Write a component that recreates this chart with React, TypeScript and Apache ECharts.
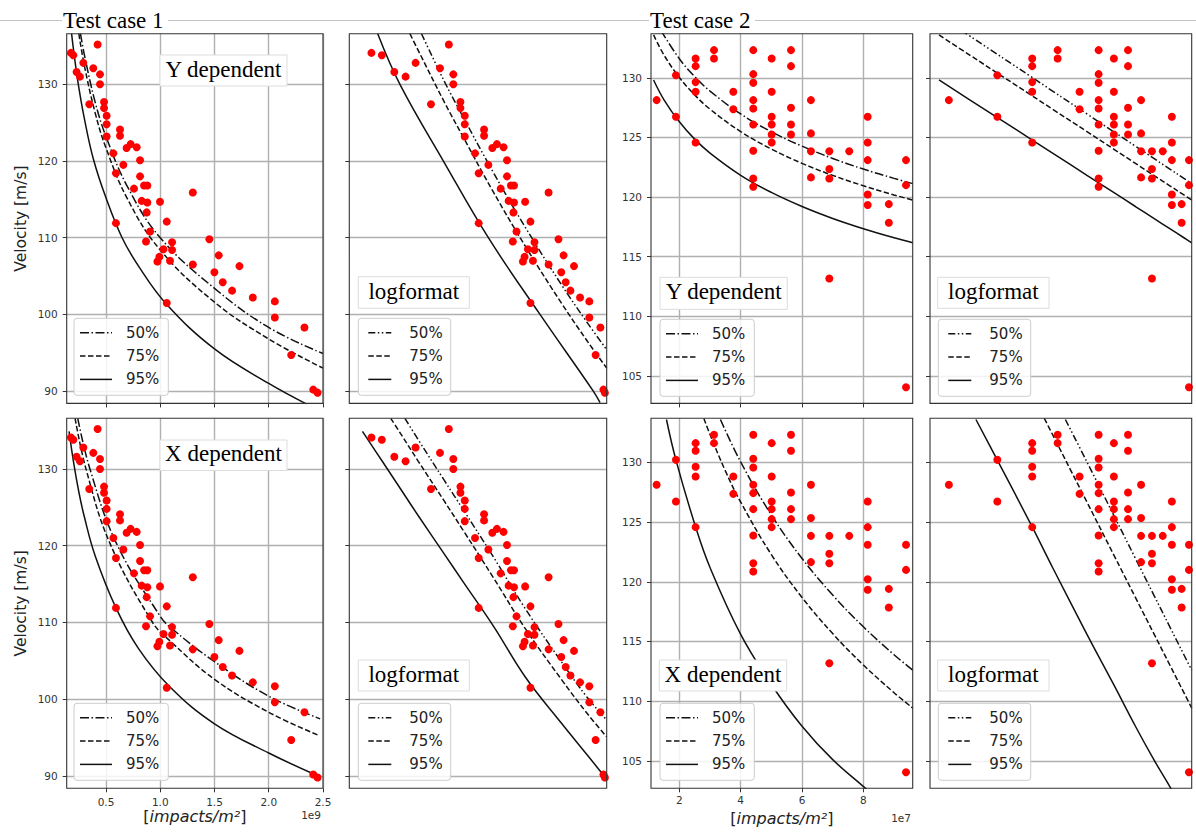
import React, { useEffect, useRef } from "react";
import * as echarts from "echarts";

// ---------- DATA ----------
// Test case 1: impacts in units of 1e9 impacts/m^2, velocity in m/s
const tc1Impacts = [
  0.177, 0.199, 0.423, 0.291, 0.229, 0.26, 0.383, 0.445, 0.445, 0.346,
  0.482, 0.482, 0.506, 0.506, 0.506, 0.629, 0.629, 0.69, 0.727, 0.783,
  0.814, 0.568, 0.66, 0.592, 0.758, 0.814, 0.851, 0.881, 0.829, 0.881,
  0.875, 0.906, 0.869, 0.592, 0.998, 1.06, 1.3, 0.974, 0.992, 1.03,
  1.09, 1.109, 1.109, 1.06, 1.3, 1.453, 1.499, 1.539, 1.576, 1.662,
  1.73, 1.853, 2.056, 2.056, 2.207, 2.329, 2.41, 2.45,
];
const tc1Velocity = [
  134.1, 133.8, 135.2, 132.8, 131.6, 131.0, 132.1, 131.3, 130.0, 127.4,
  127.7, 126.9, 125.9, 124.8, 123.2, 124.1, 123.3, 121.7, 122.2, 121.8,
  120.1, 121.0, 119.5, 118.4, 116.4, 118.0, 116.8, 116.8, 114.8, 114.6,
  113.3, 110.8, 109.5, 111.9, 114.7, 112.1, 115.9, 106.9, 107.5, 108.5,
  107.0, 108.4, 109.4, 101.5, 106.5, 109.8, 105.5, 107.7, 104.2, 103.1,
  106.3, 102.2, 101.7, 99.6, 94.7, 98.3, 90.2, 89.8,
];

// Test case 2: impacts in units of 1e7 impacts/m^2
const tc2Impacts = [
  1.26, 1.89, 1.89, 2.53, 2.53, 2.53, 2.53, 2.53, 3.13, 3.13,
  3.76, 3.76, 4.41, 4.41, 4.41, 4.41, 4.41, 4.41, 4.41, 4.41,
  4.41, 5.01, 5.01, 5.01, 5.01, 5.01, 5.01, 5.64, 5.64, 5.64,
  5.64, 5.64, 6.29, 6.29, 6.29, 6.29, 6.89, 6.89, 6.89, 6.89,
  7.54, 8.14, 8.14, 8.14, 8.14, 8.14, 8.83, 8.83, 9.39, 9.39, 9.39,
];
const tc2Velocity = [
  128.13, 130.22, 126.73, 131.62, 130.98, 129.64, 128.83, 124.58, 132.32, 131.62,
  128.83, 127.37, 132.32, 130.31, 129.58, 128.13, 127.43, 126.09, 123.88, 121.56,
  120.87, 131.62, 128.83, 126.73, 126.09, 125.25, 124.58, 132.32, 130.98, 127.49,
  126.09, 125.25, 128.13, 125.34, 123.85, 121.65, 123.85, 122.35, 121.56, 113.18,
  123.85, 126.73, 124.58, 123.1, 120.22, 119.33, 119.41, 117.85, 123.1, 121.0, 104.05,
];

// Fitted curves: [impacts, velocity]
// Test case 1, Y dependent (linear panel)
const tc1YLin50 = [[0.265, 136.6], [0.3, 133.9], [0.4, 127.7], [0.5, 123.2], [0.7, 116.6], [1.0, 110.0], [1.5, 103.4], [2.0, 98.3], [2.5, 94.9]];
const tc1YLin75 = [[0.25, 136.6], [0.3, 132.5], [0.4, 126.3], [0.5, 121.7], [0.7, 115.0], [1.0, 108.4], [1.5, 101.6], [2.0, 96.8], [2.5, 93.0]];
const tc1YLin95 = [[0.183, 136.6], [0.21, 133.5], [0.245, 130.0], [0.3, 125.6], [0.383, 120.3], [0.5, 115.2], [0.645, 110.1], [0.8, 106.3], [1.06, 101.3], [1.5, 95.5], [2.0, 91.0], [2.35, 88.3]];
// Test case 1, Y dependent (logformat panel)
const tc1YLog50 = [[0.311, 136.6], [0.4, 130.5], [0.5, 125.6], [0.7, 118.45], [1.0, 111.36], [1.5, 103.9], [2.0, 99.0], [2.5, 95.4]];
const tc1YLog75 = [[0.273, 136.6], [0.3, 134.4], [0.4, 127.8], [0.5, 123.0], [0.7, 115.9], [1.0, 108.9], [1.5, 101.5], [2.0, 96.6], [2.5, 93.0]];
const tc1YLog95 = [[0.19, 136.6], [0.244, 130.0], [0.398, 120.0], [0.66, 110.0], [1.18, 100.0], [2.15, 90.0], [2.32, 88.5]];
// Test case 1, X dependent (linear panel)
const tc1XLin50 = [[0.24, 136.6], [0.352, 130.0], [0.6, 120.2], [1.0, 110.8], [1.09, 109.4], [1.5, 104.9], [2.0, 100.4], [2.474, 97.45]];
const tc1XLin75 = [[0.215, 136.6], [0.316, 130.0], [0.537, 120.3], [0.93, 110.0], [1.09, 107.6], [1.5, 102.6], [2.0, 98.3], [2.46, 95.3]];
const tc1XLin95 = [[0.16, 134.9], [0.2, 131.0], [0.25, 127.0], [0.3, 123.8], [0.4, 118.7], [0.592, 111.9], [0.8, 106.6], [1.09, 101.6], [1.5, 96.8], [2.0, 93.0], [2.44, 90.1]];
// Test case 1, X dependent (logformat panel)
const tc1XLog50 = [[0.258, 136.6], [0.3, 133.8], [0.4, 128.6], [0.5, 124.6], [0.7, 118.5], [1.0, 111.8], [1.5, 104.9], [2.0, 100.3], [2.5, 97.3]];
const tc1XLog75 = [[0.22, 136.6], [0.25, 134.3], [0.3, 131.0], [0.4, 125.9], [0.5, 121.9], [0.7, 115.8], [1.0, 109.2], [1.5, 102.6], [2.0, 98.2], [2.5, 95.1]];
const tc1XLog95 = [[0.16, 134.9], [0.2, 131.0], [0.25, 127.1], [0.3, 123.9], [0.4, 119.0], [0.5, 115.2], [0.7, 109.5], [1.0, 102.9], [1.5, 96.9], [2.0, 92.8], [2.38, 90.3]];

// Test case 2 (same curves in linear and logformat panels)
const tc2YDep50 = [[1.4, 133.97], [2, 131.6], [2.5, 130.11], [3, 128.89], [4, 126.97], [5, 125.48], [6, 124.27], [7, 123.24], [8, 122.35], [9, 121.57], [9.61, 121.13]];
const tc2YDep75 = [[1.16, 133.6], [1.5, 131.91], [2, 130.03], [2.5, 128.57], [3, 127.37], [4, 125.49], [5, 124.03], [6, 122.83], [7, 121.82], [8, 120.95], [9, 120.18], [9.61, 119.75]];
const tc2YDep95 = [[1.16, 129.82], [1.5, 128.16], [2, 126.31], [2.5, 124.86], [3, 123.69], [4, 121.83], [5, 120.39], [6, 119.21], [7, 118.21], [8, 117.35], [9, 116.59], [9.61, 116.17]];

const tc2XDep50 = [[3.34, 133.6], [4, 130.04], [5, 125.6], [6, 121.96], [7, 118.89], [8, 116.23], [9, 113.89], [9.61, 112.6]];
const tc2XDep75 = [[2.8, 133.69], [3, 132.34], [3.5, 129.3], [4, 126.68], [5, 122.28], [6, 118.69], [7, 115.66], [8, 113.03], [9, 110.71], [9.61, 109.42]];
const tc2XDep95 = [[1.58, 133.6], [1.89, 130.2], [2.53, 124.6], [3.0, 121.2], [4.0, 115.6], [5.0, 111.4], [6.0, 107.9], [7.0, 105.1], [8.09, 102.65], [8.3, 102.1]];

// Axis ticks / ranges
const tc1XTicks = [0.5, 1.0, 1.5, 2.0, 2.5];
const tc1YTicks = [90, 100, 110, 120, 130];
const tc2XTicks = [2, 4, 6, 8];
const tc2YTicks = [105, 110, 115, 120, 125, 130];
const tc1XRange = [0.138, 2.5];
const tc1YRange = [88.4, 136.6];
const tc2XRange = [1.076, 9.608];
const tc2YRange = [102.7, 133.7];

const legendLabels = ["50%", "75%", "95%"];
const titles = ["Test case 1", "Test case 2"];

// ---------- LAYOUT ----------
const DASHED = [5.5, 2.5];
const DASHDOT = [9, 2.5, 1.5, 2.5];
const DASHDOTDOT = [7, 2.5, 1.5, 2.5, 1.5, 2.5];

const panels = [
  { left: 66.7, top: 33.7, width: 256.3, height: 369.7, tc: 1, log: false, bottom: false, curves: [tc1YLin50, tc1YLin75, tc1YLin95], label: "Y dependent", labelBox: [160, 55, 127, 31], legendPos: [74, 318.3] },
  { left: 349.3, top: 33.7, width: 257.4, height: 369.7, tc: 1, log: true, bottom: false, curves: [tc1YLog50, tc1YLog75, tc1YLog95], label: "logformat", labelBox: [358.3, 276.7, 111, 31.6], legendPos: [358.3, 318.3] },
  { left: 66.7, top: 418.3, width: 256.3, height: 370, tc: 1, log: false, bottom: true, curves: [tc1XLin50, tc1XLin75, tc1XLin95], label: "X dependent", labelBox: [160, 440, 127, 30.5], legendPos: [74, 703.3] },
  { left: 349.3, top: 418.3, width: 257.4, height: 370, tc: 1, log: true, bottom: true, curves: [tc1XLog50, tc1XLog75, tc1XLog95], label: "logformat", labelBox: [358.3, 660, 111, 31], legendPos: [358.3, 703.3] },
  { left: 651, top: 33.7, width: 261.7, height: 369.7, tc: 2, log: false, bottom: false, curves: [tc2YDep50, tc2YDep75, tc2YDep95], label: "Y dependent", labelBox: [660, 277.3, 127.3, 32], legendPos: [660, 319.3] },
  { left: 930, top: 33.7, width: 261.7, height: 369.7, tc: 2, log: true, bottom: false, curves: [tc2YDep50, tc2YDep75, tc2YDep95], label: "logformat", labelBox: [937.7, 277.3, 111.3, 31], legendPos: [938.3, 319.3] },
  { left: 651, top: 418.3, width: 261.7, height: 370, tc: 2, log: false, bottom: true, curves: [tc2XDep50, tc2XDep75, tc2XDep95], label: "X dependent", labelBox: [659.3, 660, 127.4, 31], legendPos: [660, 703.3] },
  { left: 930, top: 418.3, width: 261.7, height: 370, tc: 2, log: true, bottom: true, curves: [tc2XDep50, tc2XDep75, tc2XDep95], label: "logformat", labelBox: [937.7, 660, 111.3, 31], legendPos: [938.3, 703.3] },
];

const zip = (xs: number[], ys: number[]) => xs.map((x, i) => [x, ys[i]]);

const SANS = "DejaVu Sans";
const SERIF = "Liberation Serif";
const GRID_COLOR = "#b0b0b0";
const INK = "#333333";

function buildOption() {
  const grid: any[] = [];
  const xAxis: any[] = [];
  const yAxis: any[] = [];
  const series: any[] = [];
  const graphic: any[] = [];

  // top separator and titles
  graphic.push({ type: "line", z: 1, shape: { x1: 0, y1: 20.5, x2: 1196, y2: 20.5 }, style: { stroke: "#c4c4c4", lineWidth: 1 } });
  const titleX = [63, 650];
  titles.forEach((t, k) => {
    graphic.push({ type: "rect", z: 2, shape: { x: titleX[k] - 1, y: 10, width: 106, height: 21 }, style: { fill: "#ffffff" } });
    graphic.push({
      type: "text", z: 3, x: titleX[k], y: 20.5,
      style: { text: t, fontFamily: SERIF, fontSize: 23, fill: "#000", align: "left", verticalAlign: "middle", textAlign: "left", textVerticalAlign: "middle" },
    });
  });

  panels.forEach((p, i) => {
    const isTc1 = p.tc === 1;
    const xTicks = isTc1 ? tc1XTicks : tc2XTicks;
    const yTicks = isTc1 ? tc1YTicks : tc2YTicks;
    const xr = isTc1 ? tc1XRange : tc2XRange;
    const yr = isTc1 ? tc1YRange : tc2YRange;
    const xStep = isTc1 ? 0.5 : 2;
    const yStep = isTc1 ? 10 : 5;

    grid.push({ left: p.left, top: p.top, width: p.width, height: p.height, show: false });

    const xa: any = {
      gridIndex: i,
      type: p.log ? "log" : "value",
      min: xr[0],
      max: xr[1],
      axisLine: { show: false },
      axisTick: { show: !p.log, length: 4, lineStyle: { color: INK, width: 1 }, customValues: xTicks },
      axisLabel: {
        show: !p.log && p.bottom,
        customValues: xTicks,
        formatter: (v: number) => (isTc1 ? v.toFixed(1) : String(Math.round(v))),
        fontFamily: SANS, fontSize: 10.5, color: INK, margin: isTc1 ? 8 : 6,
      },
      splitLine: { show: !p.log, lineStyle: { color: GRID_COLOR, width: 1.4 } },
      minorTick: { show: false },
      minorSplitLine: { show: false },
    };
    if (p.log) {
      xa.logBase = 10;
    } else {
      xa.minInterval = xStep;
      xa.maxInterval = xStep;
    }
    if (p.bottom && !p.log) {
      xa.name = "[{i|impacts/m²}]";
      xa.nameLocation = "middle";
      xa.nameGap = isTc1 ? 19 : 22;
      xa.nameTextStyle = {
        fontFamily: SANS, fontSize: 16, color: "#222",
        rich: { i: { fontFamily: SANS, fontSize: 16, fontStyle: "italic", color: "#222" } },
      };
    }
    xAxis.push(xa);

    const ya: any = {
      gridIndex: i,
      type: "value",
      min: yr[0],
      max: yr[1],
      minInterval: yStep,
      maxInterval: yStep,
      axisLine: { show: false },
      axisTick: { show: true, length: 4, lineStyle: { color: INK, width: 1 }, customValues: yTicks },
      axisLabel: { show: !p.log, customValues: yTicks, fontFamily: SANS, fontSize: 10.5, color: INK, margin: 9 },
      splitLine: { show: true, lineStyle: { color: GRID_COLOR, width: 1.4 } },
    };
    if (isTc1 && !p.log) {
      ya.name = "Velocity [m/s]";
      ya.nameLocation = "middle";
      ya.nameGap = 38;
      ya.nameRotate = 90;
      ya.nameTextStyle = { fontFamily: SANS, fontSize: 15.5, color: "#222" };
    }
    yAxis.push(ya);

    const dash50 = p.log ? DASHDOTDOT : DASHDOT;
    const styles = [dash50, DASHED, "solid"];
    p.curves.forEach((c, k) => {
      series.push({
        type: "line", xAxisIndex: i, yAxisIndex: i, data: c,
        symbol: "none", showSymbol: false, smooth: 0.4,
        clip: true, silent: true, z: 2,
        lineStyle: { color: "#111", width: 1.5, type: styles[k] },
      });
    });
    series.push({
      type: "scatter", xAxisIndex: i, yAxisIndex: i,
      data: isTc1 ? zip(tc1Impacts, tc1Velocity) : zip(tc2Impacts, tc2Velocity),
      symbolSize: 8, itemStyle: { color: "#ff0000", opacity: 1 }, z: 3, silent: true,
    });

    // frame
    graphic.push({
      type: "rect", z: 50,
      shape: { x: p.left, y: p.top, width: p.width, height: p.height },
      style: { fill: "none", stroke: INK, lineWidth: 1.1 },
    });

    // label box
    const [bx, by, bw, bh] = p.labelBox;
    graphic.push({
      type: "rect", z: 60, shape: { x: bx, y: by, width: bw, height: bh },
      style: { fill: "#ffffff", stroke: "#dddddd", lineWidth: 1 },
    });
    graphic.push({
      type: "text", z: 61, x: bx + bw / 2, y: by + bh / 2 - 1.5,
      style: { text: p.label, fontFamily: SERIF, fontSize: 23, fill: "#000", align: "center", verticalAlign: "middle", textAlign: "center", textVerticalAlign: "middle" },
    });

    // legend box
    const [lx, ly] = p.legendPos;
    const lw = p.log ? 92.4 : 94.3;
    const sx0 = p.log ? 10 : 6;
    const sLen = p.log ? 23 : 32;
    const tOff = p.log ? 51 : 52;
    graphic.push({
      type: "rect", z: 60, shape: { x: lx, y: ly, width: lw, height: 77, r: 3 },
      style: { fill: "rgba(255,255,255,0.85)", stroke: "#cccccc", lineWidth: 1 },
    });
    legendLabels.forEach((lab, k) => {
      const yy = ly + 14.5 + k * 23.3;
      const st = styles[k];
      graphic.push({
        type: "line", z: 61,
        shape: { x1: lx + sx0, y1: yy, x2: lx + sx0 + sLen, y2: yy },
        style: { stroke: "#111", lineWidth: 1.5, lineDash: st === "solid" ? null : st },
      });
      graphic.push({
        type: "text", z: 61, x: lx + tOff, y: yy,
        style: { text: lab, fontFamily: SANS, fontSize: 15, fill: "#222", align: "left", verticalAlign: "middle", textAlign: "left", textVerticalAlign: "middle" },
      });
    });
  });

  // offset texts
  graphic.push({ type: "text", z: 61, x: 321, y: 815, style: { text: "1e9", fontFamily: SANS, fontSize: 10.5, fill: INK, align: "right", verticalAlign: "middle", textAlign: "right", textVerticalAlign: "middle" } });
  graphic.push({ type: "text", z: 61, x: 911, y: 818, style: { text: "1e7", fontFamily: SANS, fontSize: 10.5, fill: INK, align: "right", verticalAlign: "middle", textAlign: "right", textVerticalAlign: "middle" } });

  return {
    animation: false,
    backgroundColor: "#ffffff",
    grid, xAxis, yAxis, series, graphic,
  };
}

export default function App() {
  const ref = useRef<HTMLDivElement>(null);
  useEffect(() => {
    if (!ref.current) return;
    const chart = echarts.init(ref.current, undefined, { renderer: "svg" });
    chart.setOption(buildOption() as any);
    return () => chart.dispose();
  }, []);
  return (
    <div
      ref={ref}
      style={{ position: "fixed", left: 0, top: 0, width: 1196, height: 832, background: "#fff" }}
    />
  );
}
